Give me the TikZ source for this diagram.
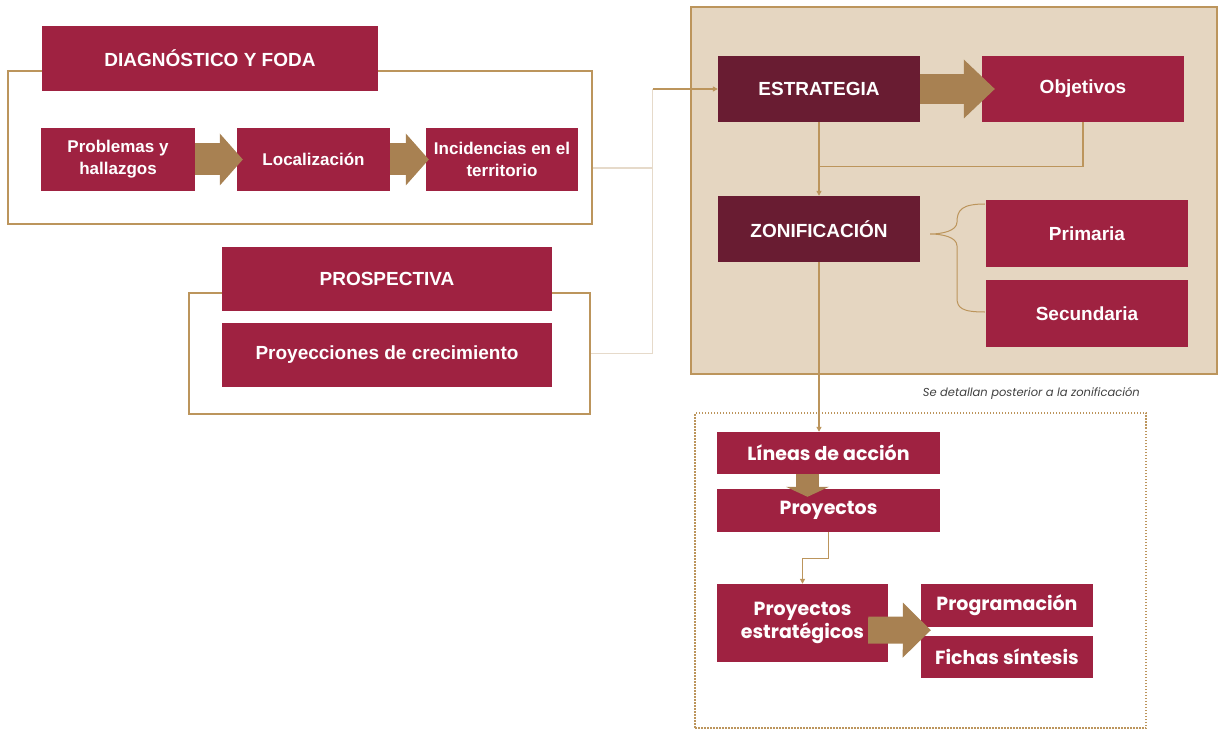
\documentclass[tikz,border=0pt]{standalone}
\usepackage{fontspec}
\setmainfont{Liberation Sans}
\newfontfamily\pdupop{Poppins}
\usepackage{xcolor}
\definecolor{pduguinda}{HTML}{9F2241}
\definecolor{pduvino}{HTML}{691C32}
\definecolor{pduoro}{HTML}{BC955C}
\definecolor{pduflecha}{HTML}{A88152}
\definecolor{pdubeige}{HTML}{E5D6C1}
\definecolor{pduclaro}{HTML}{E6DACA}
\usetikzlibrary{arrows.meta,positioning,calc}
\tikzset{
  pdubox/.style={fill=pduguinda,text=white,inner sep=2pt,align=center,font=\bfseries\fontsize{19}{23}\selectfont},
  pdusmall/.style={pdubox,font=\bfseries\fontsize{17}{22}\selectfont},
  pdudark/.style={pdubox,fill=pduvino},
  pdumont/.style={pdubox,font=\pdupop\bfseries\fontsize{19}{23}\selectfont},
  pduframe/.style={draw=pduoro,line width=2pt},
  pduflow/.style={-{Triangle[length=5pt,width=5pt]},draw=pduoro,line width=1.2pt},
  pdulight/.style={draw=pduclaro,line width=1.2pt},
  pdufat/.style n args={3}{draw=pduflecha,line width=#1,-{Triangle[length=#2,width=#3,line width=0pt]}},
  pdunote/.style={font=\pdupop\itshape\fontsize{11.5}{13}\selectfont,text=black!75,inner sep=0pt},
}

\begin{document}
\begin{tikzpicture}[x=1pt,y=-1pt]
\useasboundingbox (0,0) rectangle (1218,730);
% marcos
\node[pduframe,minimum width=584pt,minimum height=153pt] (f1) at (300,147.5) {};
\node[pduframe,minimum width=401pt,minimum height=121pt] (f2) at (389.5,353.5) {};
\node[pduframe,fill=pdubeige,minimum width=526pt,minimum height=367pt] (panel) at (954,190.5) {};
\node[draw=pduoro,line width=1.5pt,dash pattern=on 1.5pt off 1.5pt,minimum width=451pt,minimum height=315pt] (det) at (920.5,570.5) {};

% diagnostico
\node[pdubox,minimum width=336pt,minimum height=65pt] (diag) at (210,58.5) {DIAGNÓSTICO Y FODA};
\node[pdusmall,minimum width=154pt,minimum height=63pt] (prob) at (118,159.5) {Problemas y\\hallazgos};
\node[pdusmall,minimum width=153pt,minimum height=63pt] (loc) at (313.5,159.5) {Localización};
\node[pdusmall,minimum width=152pt,minimum height=63pt] (inc) at (502,159.5) {Incidencias en el\\territorio};
\draw[pdufat={32pt}{23pt}{52pt}] (prob.east) -- ($(loc.west)+(6,0)$);
\draw[pdufat={32pt}{23pt}{52pt}] (loc.east) -- ($(inc.west)+(3,0)$);

% prospectiva
\node[pdubox,minimum width=330pt,minimum height=64pt] (pros) at (387,279) {PROSPECTIVA};
\node[pdubox,minimum width=330pt,minimum height=64pt] (proy) at (387,355) {Proyecciones de crecimiento};

% estrategia
\node[pdudark,minimum width=202pt,minimum height=66pt] (est) at (819,89) {ESTRATEGIA};
\node[pdubox,minimum width=202pt,minimum height=66pt] (obj) at (1083,89) {Objetivos};
\draw[pdufat={30pt}{31pt}{59pt}] (est.east) -- ($(obj.west)+(13,0)$);
\node[pdudark,minimum width=202pt,minimum height=66pt] (zon) at (819,229) {ZONIFICACIÓN};
\node[pdubox,minimum width=202pt,minimum height=67pt] (pri) at (1087,233.5) {Primaria};
\node[pdubox,minimum width=202pt,minimum height=67pt] (sec) at (1087,313.5) {Secundaria};

\coordinate (bus) at ($(est.west)+(-65,0)$);
\draw[pdulight] ($(f1.east)+(0,20.5)$) -| (bus);
\draw[pdulight] (f2.east) -| (bus);
\draw[pduflow] (bus) -- (est.west);
\draw[pduflow] (est.south) -- (zon.north);
\draw[pduoro,line width=1.2pt] (obj.south) |- ($(est.south)!0.6!(zon.north)$);

% llave
\coordinate (llave) at ($(zon.east)+(10,5)$);
\draw[pduoro,line width=1pt] ($(pri.west)+(-1,-29.5)$) .. controls (962,204) and (957,210) .. (957,222)
  .. controls (957,231) and (942,234) .. (llave)
  .. controls (942,234) and (957,237) .. (957,246) -- (957,298)
  .. controls (957,308) and (962,312) .. ($(sec.west)+(-1,-1.5)$);

\node[pdunote,anchor=east] (nota) at (1140,393) {Se detallan posterior a la zonificación};

% detalle
\node[pdumont,minimum width=223pt,minimum height=42pt] (lin) at (828.5,453) {Líneas de acción};
\node[pdumont,minimum width=223pt,minimum height=43pt] (pro) at (828.5,510.5) {Proyectos};
\node[pdumont,minimum width=171pt,minimum height=78pt] (pe) at (802.5,623) {Proyectos\\estratégicos};
\node[pdumont,minimum width=172pt,minimum height=43pt] (prg) at (1007,605.5) {Programación};
\node[pdumont,minimum width=172pt,minimum height=42pt] (fic) at (1007,657) {Fichas síntesis};
\draw[pduflow] (zon.south) -- (zon.south |- lin.north);
\draw[pdufat={23pt}{10pt}{43pt}] ($(lin.south)+(-21,0)$) -- ($(pro.north)+(-21,8)$);
\draw[pduflow] (pro.south) -- ++(0,26) -| (pe.north);
\draw[pdufat={27pt}{28pt}{55pt}] ($(pe.east)+(-20,7)$) -- ($(prg.south west)+(10,3)$);
\end{tikzpicture}
\end{document}
